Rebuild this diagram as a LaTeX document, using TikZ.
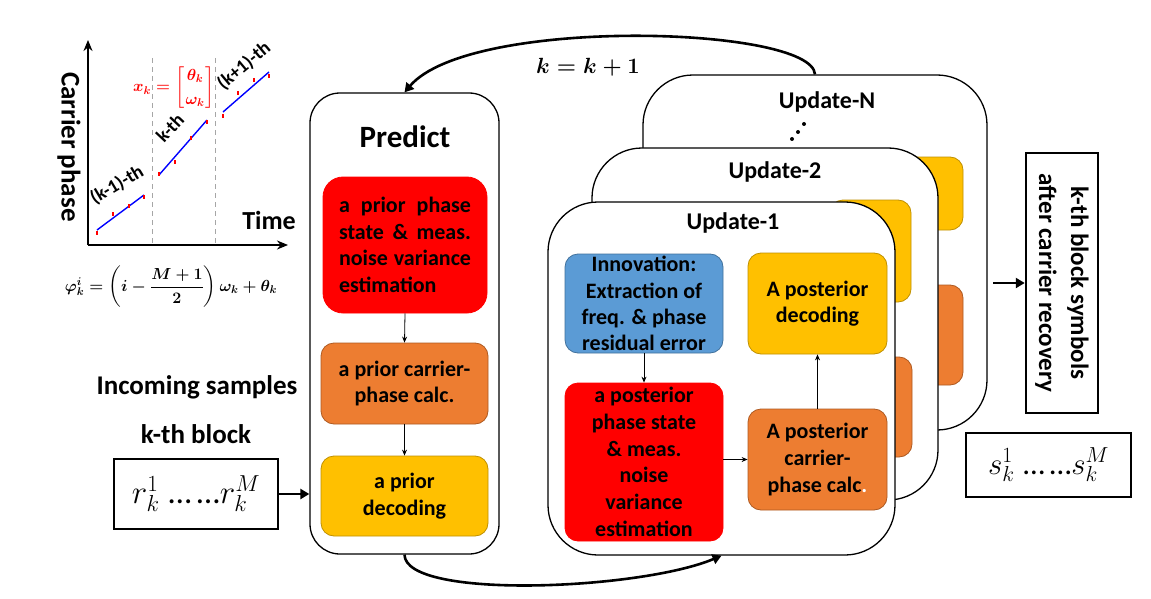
\RequirePackage{fix-cm}
\documentclass[tikz,border=0pt]{standalone}
\usepackage{amsmath}
\usepackage{fontspec}
\setmainfont{Carlito}
\usetikzlibrary{arrows.meta}
\definecolor{cyel}{HTML}{FFC000}
\definecolor{cyelb}{HTML}{BF9000}
\definecolor{corg}{HTML}{ED7D31}
\definecolor{corgb}{HTML}{AE5A21}
\definecolor{cblu}{HTML}{5B9BD5}
\definecolor{cblub}{HTML}{41719C}
\definecolor{cred}{HTML}{FF0000}
\definecolor{cgrid}{HTML}{A6A6A6}
\definecolor{cline}{HTML}{0000FF}
\newcommand{\xkform}{\ensuremath{\boldsymbol{x_k=\left[\genfrac{}{}{0pt}{0}{\theta_k}{\omega_k}\right]}}}
\newcommand{\phiform}{\ensuremath{\boldsymbol{\varphi_k^i=\left(i-\dfrac{M+1}{2}\right)\omega_k+\theta_k}}}
\newcommand{\kkform}{\ensuremath{\boldsymbol{k=k+1}}}
\newcommand{\rform}{\ensuremath{r_k^1}\;…\,…\ensuremath{r_k^M}}
\newcommand{\sform}{\ensuremath{s_k^1}\;…\,…\ensuremath{s_k^M}}
\begin{document}
\begin{tikzpicture}[x=1pt,y=-1pt,
  outerbox/.style={draw=black, line width=1.3pt, fill=white, rounded corners=#1, inner sep=0pt},
  inbox/.style={rounded corners=13pt, inner sep=0pt, align=center, font=\fontsize{22}{26.7}\selectfont\bfseries},
  ybox/.style={inbox, fill=cyel, draw=cyelb, line width=0.8pt},
  obox/.style={inbox, fill=corg, draw=corgb, line width=0.8pt},
  bbox/.style={inbox, fill=cblu, draw=cblub, line width=0.8pt},
  rbox/.style={inbox, fill=cred, draw=cred, line width=0.8pt},
  titletext/.style={font=\fontsize{24}{28}\selectfont\bfseries, inner sep=0pt},
  thinarrow/.style={draw=black, line width=0.8pt, -{Stealth[length=6pt,width=5pt]}},
  thickarrow/.style={draw=black, line width=2.6pt, -{Triangle[length=9pt,width=10pt]}},
  squarebox/.style={draw=black, line width=2.5pt, inner sep=0pt},
  axisline/.style={draw=black, line width=2.4pt, -{Stealth[length=11pt,width=9pt]}},
  gridline/.style={draw=cgrid, line width=1pt, dash pattern=on 5pt off 4pt},
  fitline/.style={draw=cline, line width=1.4pt},
  redtick/.style={draw=cred, line width=1.2pt},
  bigtext/.style={font=\fontsize{27}{30}\selectfont\bfseries, inner sep=0pt},
  smalltext/.style={font=\fontsize{19}{23}\selectfont\bfseries, inner sep=0pt}
]
\useasboundingbox (0,0) rectangle (1151,599);

% ---------------- graph ----------------
\coordinate (gO) at (88,245);
\coordinate (gY) at (88,40);
\coordinate (gX) at (288,245);
\coordinate (d1t) at (152,58);
\coordinate (d1b) at (152,245);
\coordinate (d2t) at (215,58);
\coordinate (d2b) at (215,245);
\draw[gridline] (d1t) -- (d1b);
\draw[gridline] (d2t) -- (d2b);
\draw[axisline] (gO) -- (gY);
\draw[axisline] (gO) -- (gX);
\coordinate (s1a) at (97,230);  \coordinate (s1b) at (144,195);
\coordinate (s2a) at (159,175); \coordinate (s2b) at (207,120);
\coordinate (s3a) at (223,112); \coordinate (s3b) at (269,72);
\draw[fitline] (s1a) -- (s1b);
\draw[fitline] (s2a) -- (s2b);
\draw[fitline] (s3a) -- (s3b);
\foreach \px/\py in {97/233,113/214,129/206,144/197,159/174,175/162,191/138,207/122,223/116,238/93,254/80,269/76}{
  \draw[redtick] (\px,\py-2) -- (\px,\py+2);
}
\node[bigtext, rotate=-90] (cph) at (69,147) {Carrier phase};
\node[font=\fontsize{26}{30}\selectfont\bfseries, inner sep=0pt] (tim) at (269,220) {Time};
\node[smalltext, rotate=31] (lb1) at (117,185) {(k-1)-th};
\node[smalltext, rotate=47] (lb2) at (170,128) {k-th};
\node[smalltext, rotate=40] (lb3) at (244,66) {(k+1)-th};
\node[text=cred, inner sep=0pt, font=\fontsize{16}{19}\selectfont] (xk) at (174,88) {\xkform};
\node[inner sep=0pt, font=\fontsize{16}{20}\selectfont] (phik) at (171,287) {\phiform};

% ---------------- input ----------------
\node[bigtext] (inc) at (197,387) {Incoming samples};
\node[bigtext] (kth) at (196,434) {k-th block};
\node[squarebox, minimum width=164pt, minimum height=70pt, font=\fontsize{33}{36}\selectfont] (rb) at (196,494) {\rform};

% ---------------- predict ----------------
\node[outerbox=30pt, minimum width=189pt, minimum height=461pt] (pred) at (404.5,323.5) {};
\node[font=\fontsize{31}{34}\selectfont\bfseries, inner sep=0pt] (predt) at (405,137) {Predict};
\node[rbox, rounded corners=20pt, minimum width=164pt, minimum height=136pt, align=left] (pr1) at (405,245) {\makebox[132pt][s]{a prior phase}\\\makebox[132pt][s]{state \& meas.}\\\makebox[132pt][s]{noise variance}\\estimation};
\node[obox, minimum width=167pt, minimum height=81pt] (pr2) at (404.5,383.5) {a prior carrier-\\phase calc.};
\node[ybox, minimum width=167pt, minimum height=80pt] (pr3) at (404.5,496) {a prior\\decoding};
\draw[thinarrow] (pr1.south) -- (pr2.north);
\draw[thinarrow] (pr2.south) -- (pr3.north);
\draw[thickarrow] (rb.east) -- (rb.east -| pred.west);

% ---------------- update N ----------------
\node[outerbox=50pt, minimum width=344pt, minimum height=355pt] (UN) at (815,252.5) {};
\node[ybox, minimum width=83pt, minimum height=73pt] (UNy) at (921.5,193.5) {};
\node[obox, minimum width=83pt, minimum height=100pt] (UNo) at (921.5,335) {};
\node[titletext] (UNt) at (827,102) {Update-N};
\fill (792,139) circle (2pt) (798,132) circle (2pt) (804,124) circle (2pt);

% ---------------- update 2 ----------------
\node[outerbox=50pt, minimum width=346pt, minimum height=352pt] (U2) at (765,324) {};
\node[ybox, minimum width=81pt, minimum height=102pt] (U2y) at (870.5,251) {};
\node[obox, minimum width=82pt, minimum height=100pt] (U2o) at (871,407) {};
\node[titletext] (U2t) at (775,172) {Update-2};

% ---------------- update 1 ----------------
\node[outerbox=50pt, minimum width=347pt, minimum height=353pt] (U1) at (721.5,378.5) {};
\node[titletext] (U1t) at (733,223) {Update-1};
\node[bbox, minimum width=158pt, minimum height=99pt, font=\fontsize{22}{26.3}\selectfont\bfseries] (inno) at (644,303.5) {Innovation:\\Extraction of\\freq. \& phase\\residual error};
\node[rbox, minimum width=158pt, minimum height=158pt] (post) at (644,462) {a posterior\\phase state\\\& meas.\\noise\\variance\\estimation};
\node[ybox, minimum width=139pt, minimum height=101pt] (pdec) at (817.5,303.5) {A posterior\\decoding};
\node[obox, minimum width=139pt, minimum height=101pt] (pcar) at (817.5,459.5) {A posterior\\carrier-\\phase calc{\color{white}.}};
\draw[thinarrow] (inno.south) -- (post.north);
\draw[thinarrow] (post.east |- pcar.west) -- (pcar.west);
\draw[thinarrow] (pcar.north) -- (pdec.south);

% ---------------- loop arrows ----------------
\draw[thickarrow] (pred.south) .. controls (405,600) and (640,590) .. (U1.south);
\draw[thickarrow] (UN.north) .. controls (812,26) and (470,16) .. (pred.north);
\node[inner sep=0pt, font=\fontsize{22}{26}\selectfont] (kk) at (588,67) {\kkform};

% ---------------- output ----------------
\node[squarebox, minimum width=72pt, minimum height=260pt] (outb) at (1062,283) {};
\node[rotate=-90, align=center, inner sep=0pt, font=\fontsize{25}{32}\selectfont\bfseries] (outt) at (1062,283) {k-th block symbols\\after carrier recovery};
\coordinate (oa) at (993,283);
\draw[thickarrow] (oa) -- (outb.west |- oa);
\node[squarebox, minimum width=165pt, minimum height=64pt, font=\fontsize{31}{34}\selectfont] (sb) at (1048.5,465) {\sform};
\end{tikzpicture}
\end{document}
